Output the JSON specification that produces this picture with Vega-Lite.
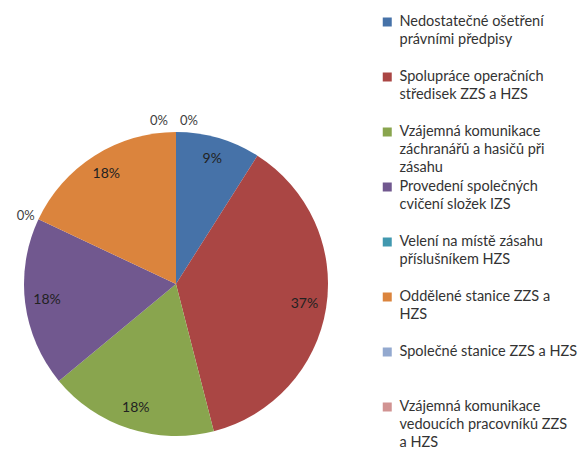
{
  "$schema": "https://vega.github.io/schema/vega-lite/v6.json",
  "width": 352,
  "height": 338,
  "autosize": "none",
  "padding": {"top": 115, "left": 0, "right": 227, "bottom": 0},
  "background": "white",
  "config": {"view": {"stroke": null}},
  "data": {"values": [
    {"kategorie": "Nedostatečné ošetření právními předpisy", "podil": 0.09, "poradi": 1},
    {"kategorie": "Spolupráce operačních středisek ZZS a HZS", "podil": 0.37, "poradi": 2},
    {"kategorie": "Vzájemná komunikace záchranářů a hasičů při zásahu", "podil": 0.18, "poradi": 3},
    {"kategorie": "Provedení společných cvičení složek IZS", "podil": 0.18, "poradi": 4},
    {"kategorie": "Velení na místě zásahu příslušníkem HZS", "podil": 0, "poradi": 5},
    {"kategorie": "Oddělené stanice ZZS a HZS", "podil": 0.18, "poradi": 6},
    {"kategorie": "Společné stanice ZZS a HZS", "podil": 0, "poradi": 7},
    {"kategorie": "Vzájemná komunikace vedoucích pracovníků ZZS a HZS", "podil": 0, "poradi": 8}
  ]},
  "encoding": {
    "theta": {"field": "podil", "type": "quantitative", "stack": true},
    "order": {"field": "poradi", "type": "quantitative"}
  },
  "layer": [
    {
      "mark": {"type": "arc", "outerRadius": 152},
      "encoding": {
        "color": {
          "field": "kategorie", "type": "nominal",
          "scale": {
            "domain": [
              "Nedostatečné ošetření právními předpisy",
              "Spolupráce operačních středisek ZZS a HZS",
              "Vzájemná komunikace záchranářů a hasičů při zásahu",
              "Provedení společných cvičení složek IZS",
              "Velení na místě zásahu příslušníkem HZS",
              "Oddělené stanice ZZS a HZS",
              "Společné stanice ZZS a HZS",
              "Vzájemná komunikace vedoucích pracovníků ZZS a HZS"
            ],
            "range": ["#4672A8", "#AA4644", "#89A54E", "#71588F", "#4198AF", "#DB843D", "#93A9CF", "#D19392"]
          },
          "legend": {
            "orient": "none",
            "legendX": 380,
            "legendY": -104,
            "padding": 0,
            "title": null,
            "symbolType": "square",
            "symbolSize": 81,
            "symbolStrokeWidth": 0,
            "labelFont": "Lato",
            "labelFontSize": 14.5,
            "labelColor": "#333333",
            "labelLimit": 300,
            "labelOffset": 5,
            "rowPadding": 0,
            "clipHeight": 55,
            "encode": {
              "labels": {"update": {"lineHeight": {"value": 18}, "y": {"value": 11}}},
              "symbols": {"update": {"y": {"value": 11}}}
            },
            "labelExpr": "{'Nedostatečné ošetření právními předpisy': ['Nedostatečné ošetření', 'právními předpisy'], 'Spolupráce operačních středisek ZZS a HZS': ['Spolupráce operačních', 'středisek ZZS a HZS'], 'Vzájemná komunikace záchranářů a hasičů při zásahu': ['Vzájemná komunikace', 'záchranářů a hasičů při', 'zásahu'], 'Provedení společných cvičení složek IZS': ['Provedení společných', 'cvičení složek IZS'], 'Velení na místě zásahu příslušníkem HZS': ['Velení na místě zásahu', 'příslušníkem HZS'], 'Oddělené stanice ZZS a HZS': ['Oddělené stanice ZZS a', 'HZS'], 'Společné stanice ZZS a HZS': ['Společné stanice ZZS a HZS'], 'Vzájemná komunikace vedoucích pracovníků ZZS a HZS': ['Vzájemná komunikace', 'vedoucích pracovníků ZZS', 'a HZS']}[datum.label]"
          }
        }
      }
    },
    {
      "mark": {"type": "text", "radius": 130, "font": "Lato", "fontSize": 14, "color": "#222222"},
      "encoding": {
        "detail": {"field": "kategorie"},
        "text": {"field": "podil", "type": "quantitative", "format": ".0%"},
        "opacity": {"condition": {"test": "datum.podil > 0", "value": 1}, "value": 0}
      }
    },
    {
      "mark": {"type": "text", "radius": 166, "dy": 3, "font": "Lato", "fontSize": 13, "color": "#404040"},
      "encoding": {
        "detail": {"field": "kategorie"},
        "text": {"field": "podil", "type": "quantitative", "format": ".0%"},
        "opacity": {"condition": {"test": "datum.kategorie === 'Velení na místě zásahu příslušníkem HZS'", "value": 1}, "value": 0}
      }
    },
    {
      "mark": {"type": "text", "radius": 163, "dx": -17, "font": "Lato", "fontSize": 13, "color": "#404040"},
      "encoding": {
        "detail": {"field": "kategorie"},
        "text": {"field": "podil", "type": "quantitative", "format": ".0%"},
        "opacity": {"condition": {"test": "datum.kategorie === 'Společné stanice ZZS a HZS'", "value": 1}, "value": 0}
      }
    },
    {
      "mark": {"type": "text", "radius": 163, "dx": 13, "font": "Lato", "fontSize": 13, "color": "#404040"},
      "encoding": {
        "detail": {"field": "kategorie"},
        "text": {"field": "podil", "type": "quantitative", "format": ".0%"},
        "opacity": {"condition": {"test": "datum.kategorie === 'Vzájemná komunikace vedoucích pracovníků ZZS a HZS'", "value": 1}, "value": 0}
      }
    }
  ]
}
